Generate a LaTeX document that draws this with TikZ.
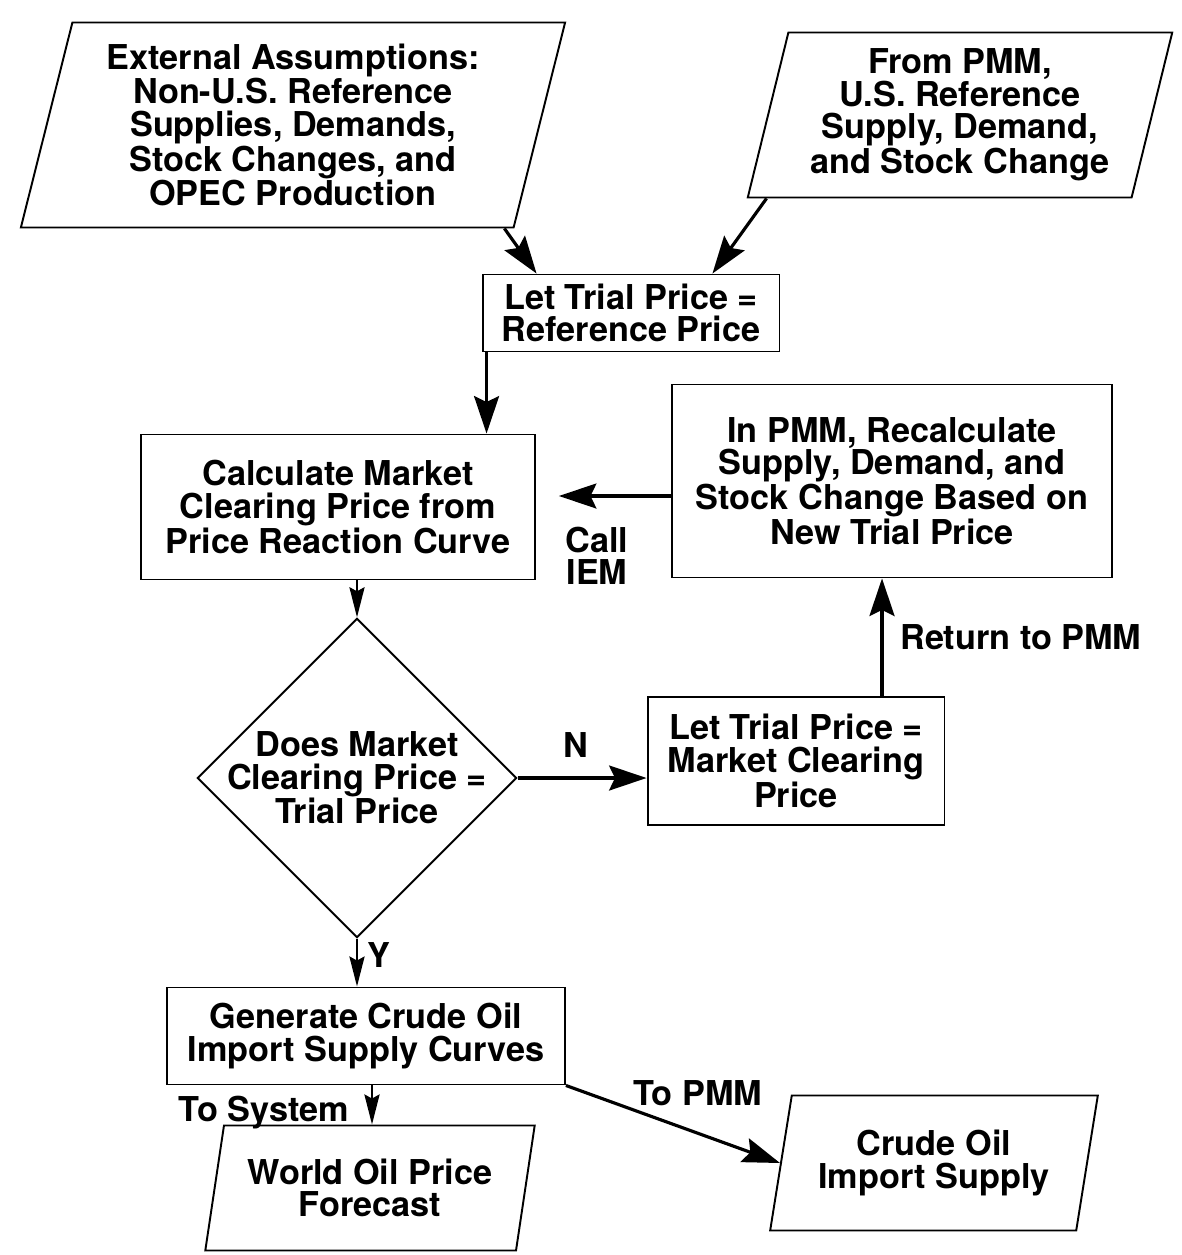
\documentclass[tikz,border=0pt]{standalone}
\usepackage{fontspec}
\setmainfont{TeX Gyre Heros}
\usetikzlibrary{positioning,arrows.meta,shapes.geometric}
\tikzset{
  proc/.style={draw,line width=1.1pt,align=center,inner sep=2pt,font=\bfseries\flowsize},
  data/.style={draw,line width=1.1pt,align=center,inner sep=0pt,font=\bfseries\flowsize,
    trapezium,trapezium left angle=75,trapezium right angle=105,trapezium stretches=true},
  decide/.style={draw,line width=1.1pt,align=center,diamond,inner sep=-4.7pt,font=\bfseries\flowsize},
  flow/.style={line width=1.8pt,-{Stealth[length=0.75cm,width=0.5cm,inset=0.12cm]}},
  thin flow/.style={line width=1.6pt,-{Stealth[length=0.6cm,width=0.3cm,inset=0.08cm]}},
  lab/.style={font=\bfseries\flowsize,align=center,inner sep=1pt},
}
\newcommand{\flowsize}{\fontsize{19.5}{18.5}\selectfont}

\begin{document}
\begin{tikzpicture}[x=0.02cm,y=-0.02cm]
  \useasboundingbox (0,0) rectangle (1181,1255);
  % inputs
  \node[data,minimum width=10.9cm,minimum height=4.1cm] (ext) at (293,125)
    {External Assumptions:\\Non-U.S. Reference\\Supplies, Demands,\\Stock Changes, and\\OPEC Production};
  \node[data,minimum width=8.5cm,minimum height=3.3cm] (pmm) at (960,115)
    {From PMM,\\U.S. Reference\\Supply, Demand,\\and Stock Change};
  % main loop
  \node[proc,minimum width=5.94cm,minimum height=1.54cm] (trial) at (631,313)
    {Let Trial Price =\\Reference Price};
  \node[proc,minimum width=7.9cm,minimum height=2.9cm] (calc) at (338,507)
    {Calculate Market\\Clearing Price from\\Price Reaction Curve};
  \node[proc,minimum width=8.8cm,minimum height=3.86cm] (recalc) at (892,481)
    {In PMM, Recalculate\\Supply, Demand, and\\Stock Change Based on\\New Trial Price};
  \node[decide] (chk) at (357,778)
    {Does Market\\Clearing Price =\\Trial Price};
  \node[proc,minimum width=5.94cm,minimum height=2.56cm] (mcp) at (796,761)
    {Let Trial Price =\\Market Clearing\\Price};
  % outputs
  \node[proc,minimum width=7.96cm,minimum height=1.94cm] (gen) at (366,1036)
    {Generate Crude Oil\\Import Supply Curves};
  \node[data,minimum width=6.6cm,minimum height=2.5cm] (wop) at (370,1188)
    {World Oil Price\\Forecast};
  \node[data,minimum width=6.56cm,minimum height=2.7cm] (cois) at (934,1163)
    {Crude Oil\\Import Supply};
  % connectors
  \draw[flow] ([xshift=-0.2cm]ext.bottom right corner) -- ([xshift=1.1cm]trial.north west);
  \draw[flow] ([xshift=0.4cm]pmm.bottom left corner) -- ([xshift=-1.36cm]trial.north east);
  \draw[flow] ([xshift=0.1cm]trial.south west) coordinate (t1) -- (t1 |- calc.north);
  \draw[flow,shorten >=0.45cm] ([yshift=-0.3cm]recalc.west) coordinate (r1) -- (r1 -| calc.east)
    node[lab,pos=0.55,below=0.55cm] {Call\\IEM};
  \draw[thin flow] (chk.north |- calc.south) -- (chk.north);
  \draw[flow] (chk.east) -- (chk.east -| mcp.west)
    node[lab,pos=0.45,above=0.35cm] {N};
  \draw[flow] ([xshift=-0.2cm]mcp.north -| recalc.south) coordinate (m1) -- (m1 |- recalc.south)
    node[lab,midway,right=0.3cm] {Return to PMM};
  \draw[thin flow] (chk.south) -- (chk.south |- gen.north)
    node[lab,pos=0.35,right=0.15cm] {Y};
  \draw[thin flow] ([xshift=0.12cm]gen.south) coordinate (g1) -- (g1 |- wop.north)
    node[lab,midway,left=0.4cm,yshift=-0.15cm] {To System};
  \draw[flow] (gen.south east) -- (cois.west)
    node[lab,pos=0.3,anchor=south west] {To PMM};
\end{tikzpicture}
\end{document}
